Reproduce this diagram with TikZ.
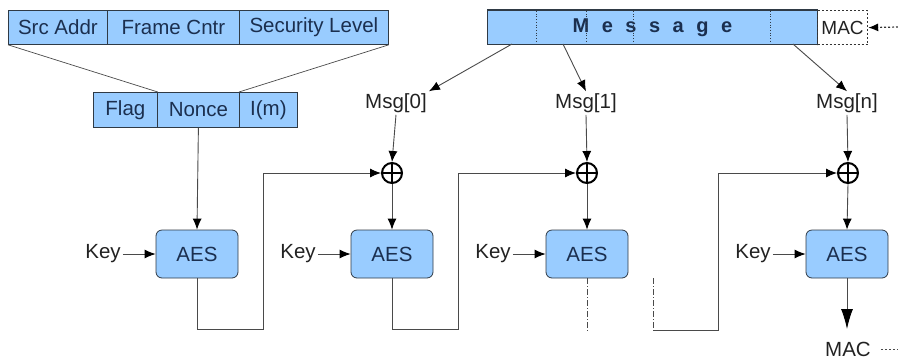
\documentclass[tikz,border=0pt]{standalone}
\usepackage{fontspec}
\setmainfont{Liberation Sans}
\usetikzlibrary{arrows.meta,calc}
\definecolor{boxfill}{HTML}{99CCFF}
\definecolor{boxtext}{HTML}{1B2F4F}
\definecolor{linegray}{HTML}{4A4A4A}
\definecolor{bordergray}{HTML}{2F3A45}
\definecolor{labeltext}{HTML}{222222}
\begin{document}
\begin{tikzpicture}[x=1pt,y=-1pt,
  font=\fontsize{20.5}{23}\selectfont,
  cell/.style={draw=bordergray, fill=boxfill, text=boxtext, inner sep=0pt,
    minimum height=34pt, anchor=north west, line width=0.8pt},
  aes/.style={draw=bordergray, fill=boxfill, text=boxtext, rounded corners=6pt,
    minimum width=82pt, minimum height=48pt, inner sep=0pt, line width=0.8pt},
  lbl/.style={text=labeltext, inner sep=2pt},
  conn/.style={draw=linegray, line width=0.9pt},
  arr/.style={conn, -{Latex[length=11pt,width=9pt,black]}},
  bigarr/.style={conn, -{Latex[length=20pt,width=12pt,black]}},
  dashdot/.style={draw=linegray, line width=0.9pt, dash pattern=on 6pt off 2pt on 1pt off 2pt},
  dotline/.style={draw=black!80, line width=1.2pt, dash pattern=on 2pt off 2pt},
  xor/.style={circle, draw=black, line width=2pt, minimum size=20pt, inner sep=0pt,
    path picture={\draw[line width=2pt] (path picture bounding box.north) -- (path picture bounding box.south)
      (path picture bounding box.west) -- (path picture bounding box.east);}},
]
\useasboundingbox (0,0) rectangle (898,360);

% top header table
\node[cell, minimum width=99pt] (src) at (8,10) {Src Addr};
\node[cell, minimum width=132pt] (frm) at (107,10) {Frame Cntr};
\node[cell, minimum width=149pt] (sec) at (239,10) {Security Level};

% nonce table
\node[cell, minimum width=64pt, minimum height=35pt] (flag) at (93,92) {Flag};
\node[cell, minimum width=82pt, minimum height=35pt] (nonce) at (157,92) {Nonce};
\node[cell, minimum width=58pt, minimum height=35pt] (im) at (239,92) {I(m)};

\draw[conn, line width=0.7pt] (src.south west) -- (flag.north east);
\draw[conn, line width=0.7pt] (sec.south east) -- (im.north west);

% message
\node[cell, minimum width=330pt, font=\fontsize{20}{23}\selectfont\bfseries] (msg) at (487,10)
  {{\spaceskip=12.5pt M e s s a g e}};
\draw[draw=bordergray, line width=1.6pt] (msg.north west) -- (msg.north east);
\foreach \xx in {536,586,633,770}
  \draw[dotted, draw=bordergray, line width=0.7pt] (\xx,11) -- (\xx,43);
\node[dotline, minimum width=50pt, minimum height=34pt,
  inner sep=0pt, anchor=north west, text=labeltext, font=\fontsize{19}{22}\selectfont] (macbox) at (817,10) {MAC};
\coordinate (macin) at (898,27);
\draw[dotline, -{Latex[length=10pt,width=8pt,black]}] (macin) -- (macbox.east);

% message blocks
\node[lbl] (msg0) at (396,103) {Msg[0]};
\node[lbl] (msg1) at (586,103) {Msg[1]};
\node[lbl] (msgn) at (847,103) {Msg[n]};
\coordinate (m0) at (512,44);
\coordinate (m1) at (563,44);
\coordinate (mn) at (793,44);
\draw[arr] (m0) -- (msg0.north east);
\draw[arr] (m1) -- (msg1.north);
\draw[arr] (mn) -- (msgn.north);

% xor nodes
\node[xor] (x0) at (392,173) {};
\node[xor] (x1) at (587,173) {};
\node[xor] (xn) at (848,173) {};

% AES blocks
\node[aes] (a1) at (197,254) {AES};
\node[aes] (a2) at (392,254) {AES};
\node[aes] (a3) at (587,254) {AES};
\node[aes] (a4) at (847,254) {AES};

% keys
\node[lbl] (k1) at (103,254) {Key};
\node[lbl] (k2) at (298,254) {Key};
\node[lbl] (k3) at (493,254) {Key};
\node[lbl] (k4) at (753,254) {Key};
\draw[arr] (k1) -- (a1);
\draw[arr] (k2) -- (a2);
\draw[arr] (k3) -- (a3);
\draw[arr] (k4) -- (a4);

% vertical feeds
\draw[arr] (nonce.south) -- (a1.north);
\draw[arr] (msg0.south) -- (x0.north);
\draw[arr] (msg1.south) -- (x1.north);
\draw[arr] (msgn.south) -- (xn.north);
\draw[arr] (x0.south) -- (a2.north);
\draw[arr] (x1.south) -- (a3.north);
\draw[arr] (xn.south) -- (a4.north);

% chaining
\coordinate (c1) at (263,329);
\coordinate (c2) at (458,329);
\coordinate (d3) at (587,331);
\coordinate (e3) at (653,278);
\coordinate (f3) at (653,330);
\coordinate (cn) at (718,330);
\draw[arr] (a1.south) |- (c1) |- (x0.west);
\draw[arr] (a2.south) |- (c2) |- (x1.west);
\draw[dashdot] (a3.south) -- (d3);
\draw[dashdot] (e3) -- (f3);
\draw[arr] (f3) -- (cn) |- (xn.west);

% output
\node[lbl] (macout) at (848,349) {MAC};
\coordinate (mo) at (847,329);
\draw[bigarr] (a4.south) -- (mo);
\coordinate (mend) at (898,349);
\draw[dotline, draw=linegray, line width=0.8pt] ($(macout.east)+(8,0)$) -- (mend);
\end{tikzpicture}
\end{document}
